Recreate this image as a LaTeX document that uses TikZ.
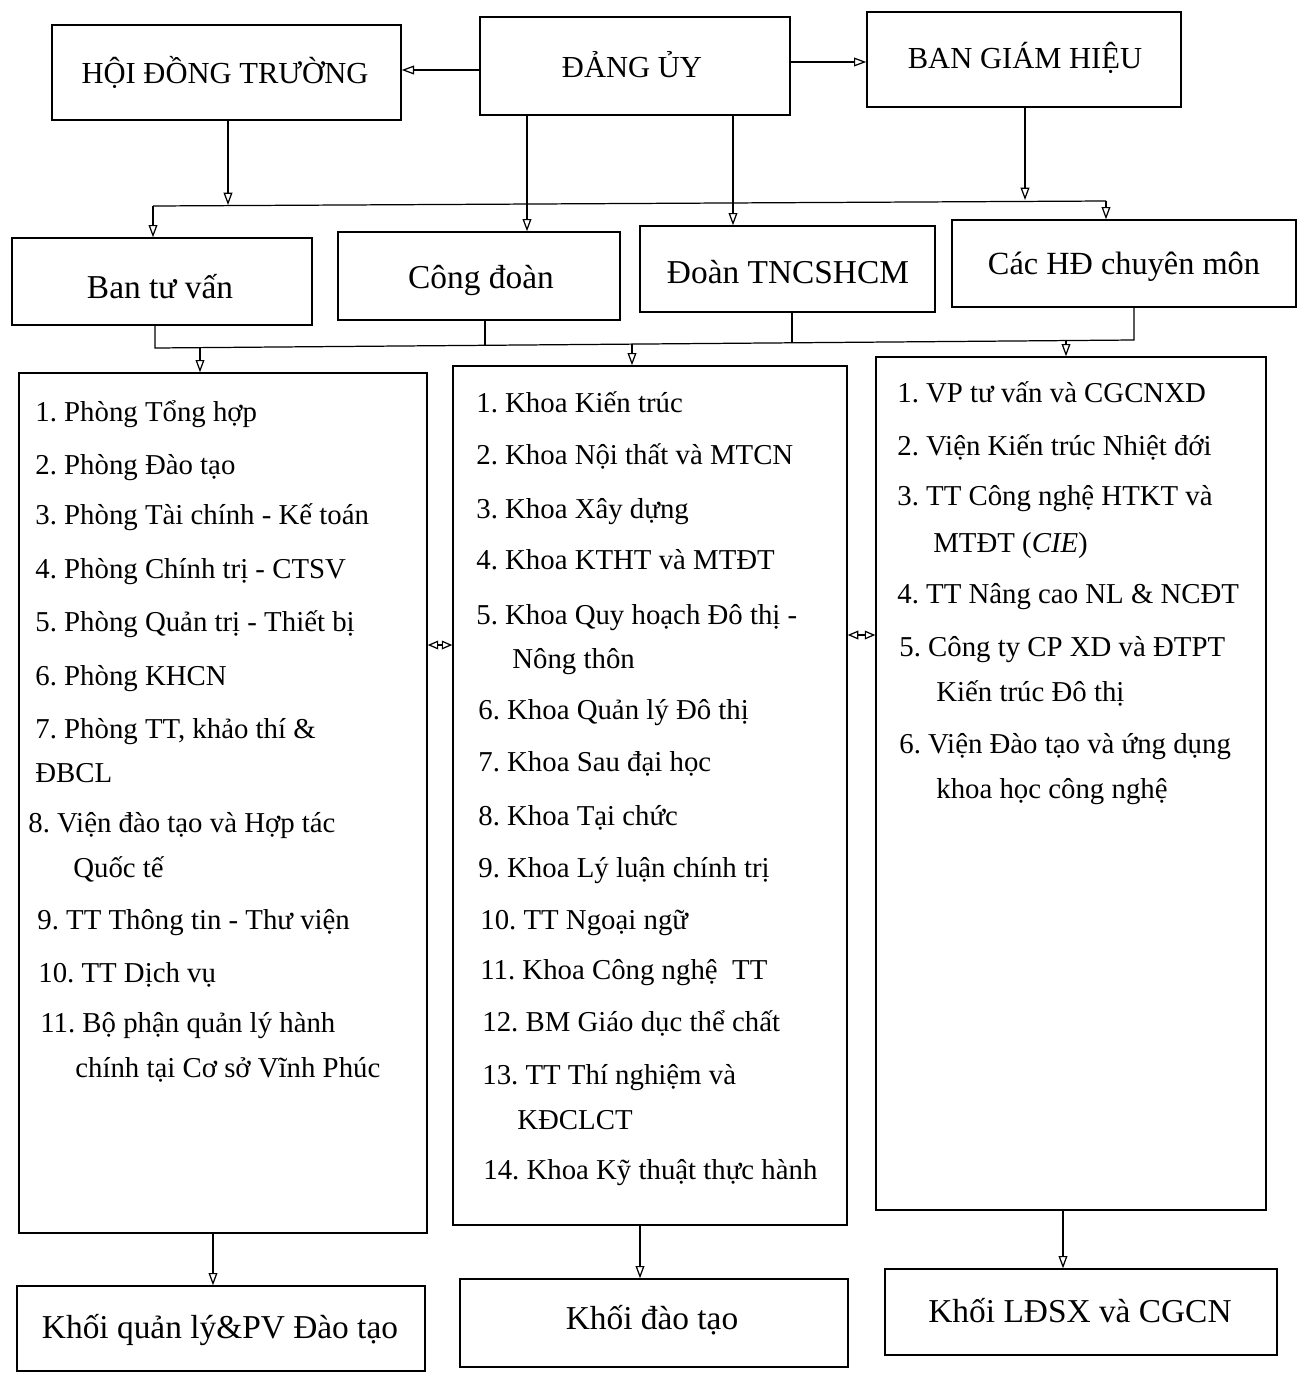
\documentclass[tikz,border=0pt]{standalone}
\usepackage{fontspec}
\setmainfont{Liberation Serif}
\usetikzlibrary{arrows.meta,fit}
\begin{document}
\frenchspacing
\begin{tikzpicture}[x=0.02cm,y=-0.02cm,
  box/.style={draw,line width=0.8pt,inner sep=0pt},
  toptext/.style={font=\fontsize{17.4}{20}\selectfont},
  midtext/.style={font=\fontsize{19}{22}\selectfont},
  item/.style={anchor=base west,inner sep=0pt,font=\fontsize{16.4}{19}\selectfont},
  arr/.style={line width=0.7pt,-{Triangle[open,length=7pt,width=5pt]}},
  dbl/.style={line width=0.7pt,{Triangle[open,length=6pt,width=5pt]}-{Triangle[open,length=6pt,width=5pt]}},
  ln/.style={line width=0.7pt}]
\useasboundingbox (0,0) rectangle (1301,1373);

% top row
\node[box,fit={(52,25) (401,120)}] (hdt) {};
\node[toptext] (hdtT) at (225,72) {HỘI ĐỒNG TRƯỜNG};
\node[box,fit={(480,17) (790,115)}] (dang) {};
\node[toptext] (dangT) at (632,65) {ĐẢNG ỦY};
\node[box,fit={(867,12) (1181,107)}] (bgh) {};
\node[toptext] (bghT) at (1025,58) {BAN GIÁM HIỆU};

% second row
\node[box,fit={(12,238) (312,325)}] (btv) {};
\node[midtext] (btvT) at (160,287) {Ban tư vấn};
\node[box,fit={(338,232) (620,320)}] (cd) {};
\node[midtext] (cdT) at (481,280) {Công đoàn};
\node[box,fit={(640,226) (935,312)}] (doan) {};
\node[midtext] (doanT) at (788,272) {Đoàn TNCSHCM};
\node[box,fit={(952,220) (1296,307)}] (hd) {};
\node[font=\fontsize{18.4}{22}\selectfont] (hdT) at (1124,267) {Các HĐ chuyên môn};

% columns
\node[box,fit={(19,373) (427,1233)}] (colL) {};
\node[box,fit={(453,366) (847,1225)}] (colM) {};
\node[box,fit={(876,357) (1266,1210)}] (colR) {};

% bottom row
\node[box,fit={(17,1286) (425,1371)}] (kq) {};
\node[midtext] (kqT) at (220,1330) {Khối quản lý\&PV Đào tạo};
\node[box,fit={(460,1279) (848,1367)}] (kdt) {};
\node[midtext] (kdtT) at (652,1320) {Khối đào tạo};
\node[box,fit={(885,1269) (1277,1355)}] (kld) {};
\node[midtext] (kldT) at (1080,1311) {Khối LĐSX và CGCN};

% left column items
\node[item] (l1) at (35,421) {1. Phòng Tổng hợp};
\node[item] (l2) at (35,474) {2. Phòng Đào tạo};
\node[item] (l3) at (35,524) {3. Phòng Tài chính - Kế toán};
\node[item] (l4) at (35,578) {4. Phòng Chính trị - CTSV};
\node[item] (l5) at (35,631) {5. Phòng Quản trị - Thiết bị};
\node[item] (l6) at (35,685) {6. Phòng KHCN};
\node[item] (l7) at (35,738) {7. Phòng TT, khảo thí \&};
\node[item] (l7b) at (35,782) {ĐBCL};
\node[item] (l8) at (28,832) {8. Viện đào tạo và Hợp tác};
\node[item] (l8b) at (73,877) {Quốc tế};
\node[item] (l9) at (37,929) {9. TT Thông tin - Thư viện};
\node[item] (l10) at (38,982) {10. TT Dịch vụ};
\node[item] (l11) at (40,1032) {11. Bộ phận quản lý hành};
\node[item] (l11b) at (75,1077) {chính tại Cơ sở Vĩnh Phúc};

% middle column items
\node[item] (m1) at (476,412) {1. Khoa Kiến trúc};
\node[item] (m2) at (476,464) {2. Khoa Nội thất và MTCN};
\node[item] (m3) at (476,518) {3. Khoa Xây dựng};
\node[item] (m4) at (476,569) {4. Khoa KTHT và MTĐT};
\node[item] (m5) at (476,624) {5. Khoa Quy hoạch Đô thị -};
\node[item] (m5b) at (512,668) {Nông thôn};
\node[item] (m6) at (478,719) {6. Khoa Quản lý Đô thị};
\node[item] (m7) at (478,771) {7. Khoa Sau đại học};
\node[item] (m8) at (478,825) {8. Khoa Tại chức};
\node[item] (m9) at (478,877) {9. Khoa Lý luận chính trị};
\node[item] (m10) at (480,929) {10. TT Ngoại ngữ};
\node[item] (m11) at (480,979) {11. Khoa Công nghệ\ \ TT};
\node[item] (m12) at (482,1031) {12. BM Giáo dục thể chất};
\node[item] (m13) at (482,1084) {13. TT Thí nghiệm và};
\node[item] (m13b) at (517,1129) {KĐCLCT};
\node[item] (m14) at (483,1179) {14. Khoa Kỹ thuật thực hành};

% right column items
\node[item] (r1) at (897,402) {1. VP tư vấn và CGCNXD};
\node[item] (r2) at (897,455) {2. Viện Kiến trúc Nhiệt đới};
\node[item] (r3) at (897,505) {3. TT Công nghệ HTKT và};
\node[item] (r3b) at (933,552) {MTĐT (\textit{CIE})};
\node[item] (r4) at (897,603) {4. TT Nâng cao NL \& NCĐT};
\node[item] (r5) at (899,656) {5. Công ty CP XD và ĐTPT};
\node[item] (r5b) at (936,701) {Kiến trúc Đô thị};
\node[item] (r6) at (899,753) {6. Viện Đào tạo và ứng dụng};
\node[item] (r6b) at (936,798) {khoa học công nghệ};

% top connectors
\draw[arr] (dang.west |- 0,70) -- (hdt.east |- 0,70);
\draw[arr] (dang.east |- 0,62) -- (bgh.west |- 0,62);

\coordinate (busL) at (153,206);
\coordinate (busR) at (1106,201);
\draw[ln] (busL) -- (busR);
\draw[arr] (hdt.south -| 228,0) -- (228,205);
\draw[arr] (bgh.south -| 1025,0) -- (1025,200);
\draw[arr] (busL) -- (btv.north -| busL);
\draw[arr] (busR) -- (hd.north -| busR);
\draw[arr] (dang.south -| 527,0) -- (cd.north -| 527,0);
\draw[arr] (dang.south -| 733,0) -- (doan.north -| 733,0);

% second bus
\coordinate (bus2L) at (155,348);
\coordinate (bus2R) at (1134,340);
\draw[ln] (btv.south -| bus2L) -- (bus2L) -- (bus2R) -- (hd.south -| bus2R);
\draw[ln] (cd.south -| 485,0) -- (485,345);
\draw[ln] (doan.south -| 792,0) -- (792,342);
\draw[arr] (200,347) -- (colL.north -| 200,0);
\draw[arr] (632,344) -- (colM.north -| 632,0);
\draw[arr] (1066,341) -- (colR.north -| 1066,0);

% double arrows between columns
\draw[dbl] (colL.east |- 0,645) -- (colM.west |- 0,645);
\draw[dbl] (colM.east |- 0,635) -- (colR.west |- 0,635);

% bottom connectors
\draw[arr] (colL.south -| 213,0) -- (kq.north -| 213,0);
\draw[arr] (colM.south -| 640,0) -- (kdt.north -| 640,0);
\draw[arr] (colR.south -| 1063,0) -- (kld.north -| 1063,0);
\end{tikzpicture}
\end{document}
